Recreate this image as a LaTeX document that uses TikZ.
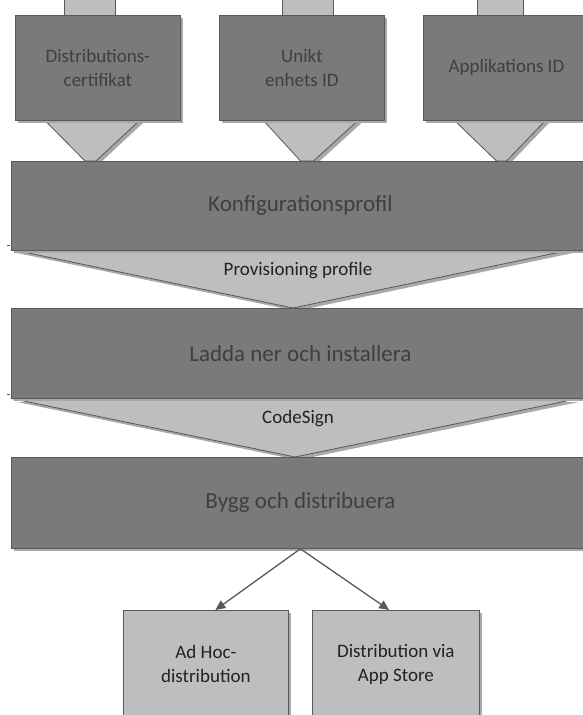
\documentclass[tikz,border=0pt]{standalone}
\usepackage{fontspec}
\setmainfont{Carlito}
\usetikzlibrary{shadows,arrows.meta,calc}
\definecolor{darkbox}{HTML}{7A7A7A}
\definecolor{darkline}{HTML}{595959}
\definecolor{lightbox}{HTML}{BEBEBE}
\definecolor{shadowc}{HTML}{A8A8A8}
\definecolor{textdark}{HTML}{3F3F3F}
\definecolor{textlight}{HTML}{222222}
\begin{document}
\begin{tikzpicture}[x=1pt,y=-1pt,
  boxshadow/.style={drop shadow={shadow xshift=3pt, shadow yshift=-3pt, fill=shadowc, opacity=1}},
  darkrect/.style={draw=darkline, line width=0.8pt, fill=darkbox, anchor=north west, inner sep=0pt,
    text=textdark, align=center, boxshadow},
  smalltext/.style={font=\fontsize{19}{24}\selectfont},
  bigtext/.style={font=\fontsize{23}{28}\selectfont},
  lightrect/.style={draw=darkline, line width=0.8pt, fill=lightbox, anchor=north west, inner sep=0pt,
    text=textlight, align=center, boxshadow, smalltext},
  funnel/.style={draw=darkline, line width=0.8pt, fill=lightbox, boxshadow},
  tab/.style={fill=lightbox},
  tabside/.style={draw=darkline, line width=1pt},
  arrowline/.style={draw=darkline, line width=1.3pt, -{Triangle[length=10pt,width=9pt]}},
  label/.style={text=textlight, smalltext, inner sep=0pt}
]
\useasboundingbox (0,0) rectangle (582,715);
\fill[white] (0,0) rectangle (582,715);

% tabs at the top
\fill[tab] (64,-5) rectangle (115,16);
\draw[tabside] (64,-5) -- (64,16) (115,-5) -- (115,16);
\fill[tab] (282,-5) rectangle (333,16);
\draw[tabside] (282,-5) -- (282,16) (333,-5) -- (333,16);
\fill[tab] (477,-5) rectangle (523,16);
\draw[tabside] (477,-5) -- (477,16) (523,-5) -- (523,16);

% funnels from top boxes
\draw[funnel] (44.5,120) -- (140,120) -- (96,161) -- (85,161) -- cycle;
\draw[funnel] (263,120) -- (358.5,120) -- (313.5,161) -- (300.5,161) -- cycle;
\draw[funnel] (454,120) -- (546,120) -- (506.5,161) -- (496.5,161) -- cycle;

% big funnels
\draw[funnel] (14,250) -- (570,250) -- (293,308) -- cycle;
\draw[funnel] (14,399) -- (576,399) -- (295,457) -- cycle;
\node[label] (prov) at (298,271) {Provisioning profile};
\node[label] (code) at (298,419) {CodeSign};

% small marks on the left
\draw[darkline, line width=0.8pt] (7,245) -- (10,245);
\draw[darkline, line width=0.8pt] (7,394) -- (10,394);

% top boxes
\node[darkrect, smalltext, minimum width=165pt, minimum height=105pt] (cert) at (15,15) {Distributions-\\certifikat};
\node[darkrect, smalltext, minimum width=165pt, minimum height=105pt] (udid) at (219,15) {Unikt\\enhets ID};
\node[darkrect, smalltext, minimum width=166pt, minimum height=105pt] (appid) at (423,15) {Applikations ID};

% big boxes
\node[darkrect, bigtext, minimum width=578pt, minimum height=89pt] (konf) at (11,161) {Konfigurationsprofil};
\node[darkrect, bigtext, minimum width=578pt, minimum height=90pt] (ladda) at (11,308) {Ladda ner och installera};
\node[darkrect, bigtext, minimum width=578pt, minimum height=91pt] (bygg) at (11,457) {Bygg och distribuera};

% bottom boxes
\node[lightrect, minimum width=165pt, minimum height=108pt] (adhoc) at (123,610) {Ad Hoc-\\distribution};
\node[lightrect, minimum width=167pt, minimum height=108pt] (store) at (312,610) {Distribution via\\App Store};

% arrows
\draw[arrowline] (bygg.south) -- ($(adhoc.north west)!0.557!(adhoc.north east)$);
\draw[arrowline] (bygg.south) -- ($(store.north west)!0.46!(store.north east)$);
\end{tikzpicture}
\end{document}
